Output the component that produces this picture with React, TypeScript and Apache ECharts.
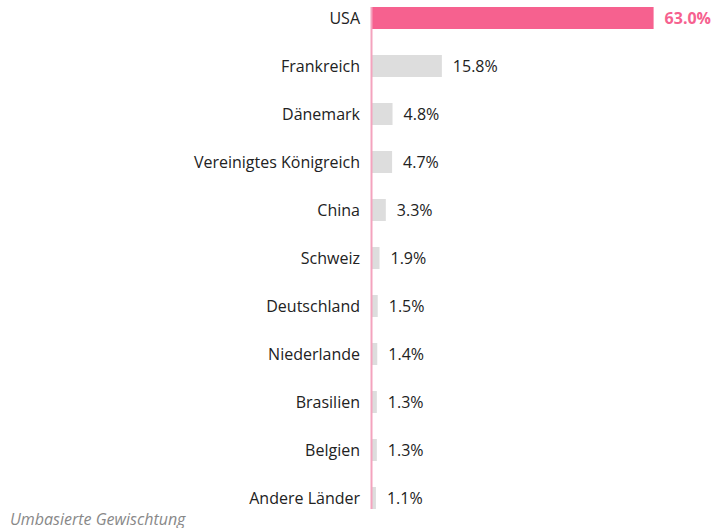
import React, { useEffect, useRef } from "react";
import * as echarts from "echarts";

const categories = [
  "USA",
  "Frankreich",
  "Dänemark",
  "Vereinigtes Königreich",
  "China",
  "Schweiz",
  "Deutschland",
  "Niederlande",
  "Brasilien",
  "Belgien",
  "Andere Länder",
];
const values = [63.0, 15.8, 4.8, 4.7, 3.3, 1.9, 1.5, 1.4, 1.3, 1.3, 1.1];
const footnote = "Umbasierte Gewischtung";

const FONT = "'Open Sans', 'Noto Sans', sans-serif";
const PINK = "#F6618F";
const GREY = "#DDDDDD";

const OFFSET = 6; // chart canvas shifted up by this many px
const GRID_LEFT = 371;
const BAND = 48;
const BAR_W = 22;

export default function App() {
  const ref = useRef<HTMLDivElement>(null);
  useEffect(() => {
    document.body.style.margin = "0";
    if (!ref.current) return;
    const chart = echarts.init(ref.current, null, { renderer: "svg" });
    const n = categories.length;
    const lineTop = BAND / 2 - BAR_W / 2;
    const lineBottom = BAND * (n - 1) + BAND / 2 + BAR_W / 2;
    chart.setOption({
      animation: false,
      grid: {
        left: GRID_LEFT,
        top: 0,
        width: 314,
        height: BAND * n,
        containLabel: false,
      },
      xAxis: {
        type: "value",
        min: 0,
        max: 70,
        show: false,
      },
      yAxis: {
        type: "category",
        data: categories,
        inverse: true,
        axisLine: { show: false },
        axisTick: { show: false },
        axisLabel: {
          margin: 11,
          fontFamily: FONT,
          fontSize: 16,
          color: "#222",
        },
      },
      series: [
        {
          type: "bar",
          barWidth: BAR_W,
          data: values.map((v, i) => ({
            value: v,
            itemStyle: { color: i === 0 ? PINK : GREY },
            label: i === 0 ? { color: PINK, fontWeight: "bold" } : undefined,
          })),
          label: {
            show: true,
            position: "right",
            distance: 11,
            fontFamily: FONT,
            fontSize: 16,
            color: "#222",
            formatter: (p: any) => p.value.toFixed(1) + "%",
          },
        },
      ],
      graphic: [
        {
          type: "line",
          shape: { x1: GRID_LEFT + 0.5, y1: lineTop, x2: GRID_LEFT + 0.5, y2: lineBottom },
          style: { stroke: "#F4A3BE", lineWidth: 2 },
          z: 10,
        },
        {
          type: "text",
          left: 10,
          top: 511 + OFFSET,
          style: {
            text: footnote,
            fontFamily: FONT,
            fontSize: 16,
            fontStyle: "italic",
            fill: "#888",
          },
        },
      ],
    });
    return () => chart.dispose();
  }, []);
  return (
    <div style={{ width: 711, height: 528, overflow: "hidden", position: "relative" }}>
      <div ref={ref} style={{ position: "absolute", left: 0, top: -OFFSET, width: 711, height: 528 + OFFSET }} />
    </div>
  );
}
